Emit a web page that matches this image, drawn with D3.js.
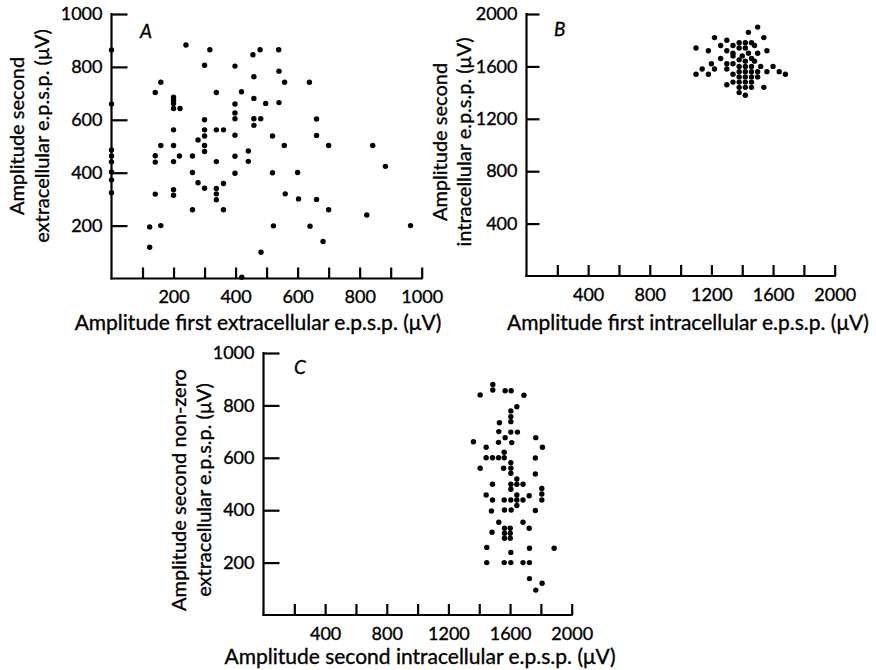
<!DOCTYPE html>
<html><head><meta charset="utf-8">
<script src="https://cdn.jsdelivr.net/npm/d3@7"></script>
<style>
body{margin:0;background:#fff;}
text{font-family:Lato,"Open Sans",sans-serif;fill:#000;stroke:#000;stroke-width:0.35px;}
</style></head>
<body><svg id="c" width="876" height="670"></svg>
<script>
// Panel A: first vs second extracellular e.p.s.p. (µV)
const aX = [240,317,456,479,539,300,398,540,459,159,558,638,141,338,419,200,200,200,200,221,398,459,497,540,398,398,300,459,481,459,661,200,300,338,361,300,398,519,661,279,159,200,300,557,700,842,300,441,141,219,261,398,141,200,338,441,883,261,398,519,600,279,361,300,338,338,338,141,200,200,560,603,661,261,361,700,823,123,159,522,640,964,682,123,482,0,0,0,0,0,0,0,0,420];
const aY = [883,865,846,865,865,806,803,784,763,742,742,742,703,703,706,685,674,662,643,643,660,681,662,665,626,604,600,604,604,579,603,562,562,562,562,539,542,539,541,524,503,503,503,503,503,503,480,482,464,463,463,462,440,442,442,443,424,401,398,400,401,362,359,341,340,320,298,319,336,315,320,301,299,260,260,260,240,195,200,199,198,200,140,118,99,864,660,486,463,441,403,373,324,5];
// Panel B: first vs second intracellular e.p.s.p. (µV)
const bX = [1500,1440,1540,1220,1300,1380,1420,1460,1340,1260,1480,1380,1420,1100,1180,1300,1340,1440,1500,1560,1400,1340,1260,1460,1380,1420,1480,1200,1300,1340,1380,1420,1460,1520,1600,1140,1220,1300,1380,1420,1460,1500,1560,1640,1680,1100,1180,1340,1380,1420,1460,1500,1340,1380,1420,1460,1300,1380,1420,1460,1540,1380,1420];
const bY = [1900,1860,1820,1820,1800,1780,1780,1780,1760,1760,1760,1740,1740,1740,1720,1720,1700,1700,1700,1720,1680,1680,1660,1660,1650,1640,1640,1620,1620,1620,1600,1600,1600,1600,1600,1580,1580,1580,1560,1560,1560,1560,1560,1560,1540,1540,1540,1540,1520,1520,1520,1520,1480,1480,1480,1480,1460,1440,1440,1440,1440,1400,1380];
// Panel C: second intracellular vs second non-zero extracellular e.p.s.p. (µV)
const cX = [1488,1488,1568,1607,1406,1690,1644,1605,1605,1605,1531,1527,1605,1648,1568,1362,1525,1611,1767,1445,1810,1445,1486,1525,1562,1562,1764,1406,1558,1605,1605,1605,1764,1644,1605,1644,1684,1486,1605,1806,1806,1806,1445,1486,1562,1605,1644,1644,1644,1684,1724,1479,1564,1607,1764,1527,1684,1724,1483,1564,1601,1564,1601,1564,1601,1449,1726,1886,1605,1449,1562,1605,1684,1726,1726,1808,1767];
const cY = [880,859,856,856,840,839,795,779,757,738,734,700,698,698,677,661,659,658,677,640,640,600,600,600,600,621,599,560,560,581,560,541,538,519,499,499,499,499,480,483,462,439,458,439,439,439,458,439,418,439,455,397,401,401,399,354,354,331,316,331,331,312,312,293,293,258,255,255,239,200,200,200,200,200,139,121,95];

const aXTicks = [100,200,300,400,500,600,700,800,900,1000];
const aYTicks = [200,400,600,800,1000];
const bXTicks = [200,400,600,800,1000,1200,1400,1600,1800,2000];
const bYTicks = [400,800,1200,1600,2000];
const cXTicks = [200,400,600,800,1000,1200,1400,1600,1800,2000];
const cYTicks = [200,400,600,800,1000];

const svg = d3.select("#c");
const FS = 18, TFS = 21, YFS = 20;

function panel(o){
  const g = svg.append("g");
  const x = d3.scaleLinear().domain(o.xd).range(o.xr);
  const y = d3.scaleLinear().domain(o.yd).range(o.yr);
  const xa = d3.axisBottom(x).tickValues(o.xt).tickSizeInner(-11).tickSizeOuter(0).tickPadding(12)
     .tickFormat(d => o.xl.includes(d) ? String(d) : "");
  const ya = d3.axisLeft(y).tickValues(o.yt).tickSizeInner(-o.ytl).tickSizeOuter(0).tickPadding(9)
     .tickFormat(d => String(d));
  const gx = g.append("g").attr("transform",`translate(0,${o.yr[0]})`).call(xa);
  const gy = g.append("g").attr("transform",`translate(${o.xr[0]},0)`).call(ya);
  [gx,gy].forEach(a=>{
    a.selectAll("path,line").attr("stroke","#000").attr("stroke-width",2.2);
    a.selectAll("text").attr("font-size",FS).attr("font-family","Lato,sans-serif").attr("fill","#000");
  });
  gx.select(".domain").attr("d",`M${o.xr[0]-1},0H${o.xr[1]+1}`);
  gy.select(".domain").attr("d",`M0,${o.yr[1]-1}V${o.yr[0]+1}`);
  g.append("g").selectAll("circle").data(o.xs).join("circle")
    .attr("cx",(d)=>x(d)).attr("cy",(d,i)=>y(o.ys[i])).attr("r",2.7).attr("fill","#000");
  g.append("text").attr("x",o.lab[0]).attr("y",o.lab[1]).attr("font-size",19)
    .attr("font-style","italic").text(o.letter);
  g.append("text").attr("x",o.xtpos[0]).attr("y",o.xtpos[1]).attr("text-anchor","middle")
    .attr("font-size",TFS).text(o.xtitle);
  o.ytitle.forEach((t,i)=>{
    g.append("text").attr("transform",`translate(${o.ytpos[i]},${o.ytpos[2]}) rotate(-90)`)
      .attr("text-anchor","middle").attr("font-size",YFS).text(t);
  });
}

panel({xd:[0,1000],xr:[111.5,421.7],yd:[0,1000],yr:[278.5,14],xt:aXTicks,xl:[200,400,600,800,1000],yt:aYTicks,ytl:16,
  xs:aX,ys:aY,letter:"A",lab:[140,38],
  xtitle:"Amplitude first extracellular e.p.s.p. (\u03BCV)",xtpos:[258,330],
  ytitle:["Amplitude second","extracellular e.p.s.p. (\u03BCV)"],ytpos:[24,49,136]});
panel({xd:[0,2000],xr:[526.5,834.7],yd:[0,2000],yr:[276,14],xt:bXTicks,xl:[400,800,1200,1600,2000],yt:bYTicks,ytl:13,
  xs:bX,ys:bY,letter:"B",lab:[554,36],
  xtitle:"Amplitude first intracellular e.p.s.p. (\u03BCV)",xtpos:[688,330],
  ytitle:["Amplitude second","intracellular e.p.s.p. (\u03BCV)"],ytpos:[447,471,142]});
panel({xd:[0,2000],xr:[263.5,571.7],yd:[0,1000],yr:[615,353],xt:cXTicks,xl:[400,800,1200,1600,2000],yt:cYTicks,ytl:16,
  xs:cX,ys:cY,letter:"C",lab:[294,374],
  xtitle:"Amplitude second intracellular e.p.s.p. (\u03BCV)",xtpos:[420,664],
  ytitle:["Amplitude second non-zero","extracellular e.p.s.p. (\u03BCV)"],ytpos:[186,211,490]});
</script></body></html>
